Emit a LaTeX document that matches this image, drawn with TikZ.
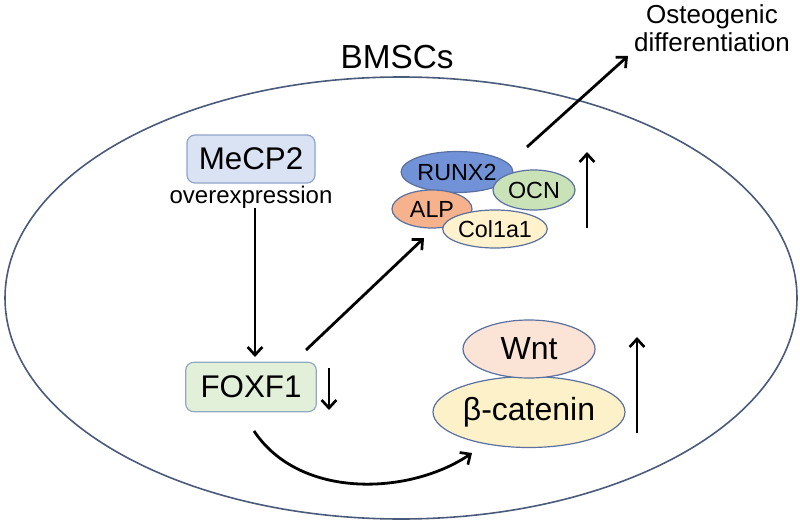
\documentclass[tikz,border=0pt]{standalone}
\usepackage{fontspec}
\setmainfont{Liberation Sans}
\usetikzlibrary{arrows.meta,shapes.geometric}
\definecolor{cellline}{HTML}{4A5A7A}
\definecolor{mecpfill}{HTML}{DAE3F3}
\definecolor{mecpdraw}{HTML}{8FA3C8}
\definecolor{foxfill}{HTML}{E2F0D9}
\definecolor{foxdraw}{HTML}{8FAAC0}
\definecolor{runxfill}{HTML}{7192D6}
\definecolor{ocnfill}{HTML}{C9E2B8}
\definecolor{alpfill}{HTML}{F6B28C}
\definecolor{colfill}{HTML}{FFF2CC}
\definecolor{wntfill}{HTML}{FBE3D6}
\definecolor{catfill}{HTML}{FDF1C9}
\definecolor{elldraw}{HTML}{5A70A0}
\tikzset{
  arr/.style={line width=2.1pt,-{Straight Barb[length=6pt,width=11pt,line width=2pt]}},
  genebox/.style={draw,line width=0.9pt,rounded corners=6pt,inner sep=0pt,font=\fontsize{23.5pt}{26pt}\selectfont},
  prot/.style={ellipse,draw=elldraw,line width=0.9pt,inner sep=0pt},
  small/.style={font=\fontsize{17.5pt}{20pt}\selectfont},
  big/.style={font=\fontsize{24pt}{27pt}\selectfont}
}
\begin{document}
\begin{tikzpicture}[x=0.75pt,y=-0.75pt]
\useasboundingbox (0,0) rectangle (800,521);
% cell
\draw[cellline,line width=1.2pt] (401,298) ellipse [x radius=396, y radius=221];
\node[font=\fontsize{25pt}{28pt}\selectfont] (bmsc) at (397,57) {BMSCs};
\node[font=\fontsize{19.5pt}{21pt}\selectfont,align=center] (osteo) at (712,28) {Osteogenic\\differentiation};
% MeCP2
\node[genebox,draw=mecpdraw,fill=mecpfill,minimum width=96pt,minimum height=36pt] (mecp) at (251,159) {MeCP2};
\node[font=\fontsize{18pt}{20pt}\selectfont] (ov) at (251,197) {overexpression};
% FOXF1
\node[genebox,draw=foxdraw,fill=foxfill,minimum width=98pt,minimum height=37pt] (fox) at (251,387) {FOXF1};
% osteogenic markers
\node[prot,small,fill=runxfill,minimum width=78.75pt,minimum height=30.75pt] (runx) at (457,172) {RUNX2};
\node[prot,small,fill=ocnfill,minimum width=61.5pt,minimum height=30pt] (ocn) at (534,190) {OCN};
\node[prot,small,fill=alpfill,minimum width=60pt,minimum height=28.5pt] (alp) at (432,209) {ALP};
\node[prot,small,fill=colfill,minimum width=72.75pt,minimum height=28.5pt] (col) at (495,229) {Col1a1};
% Wnt / beta-catenin
\node[prot,big,fill=catfill,minimum width=144pt,minimum height=53.25pt] (cat) at (529,412) {β-catenin};
\node[prot,big,fill=wntfill,minimum width=99pt,minimum height=43.5pt] (wnt) at (529,349) {Wnt};
% coordinates for connector ends
\coordinate (mA) at (255,208);
\coordinate (mB) at (255,357);
\coordinate (fA) at (306,350);
\coordinate (fB) at (424,238);
\coordinate (oA) at (527,147);
\coordinate (oB) at (628,56);
\coordinate (cA) at (254,431);
\coordinate (cB) at (472,453);
% connectors
\draw[arr] (mA) -- (mB);
\draw[arr] (fA) -- (fB);
\draw[arr] (oA) -- (oB);
\draw[arr] (cA) .. controls (300,500) and (410,495) .. (cB);
% up/down indicators
\draw[arr] (329,368) -- (329,410);
\draw[arr] (587,228) -- (587,152);
\draw[arr] (637,433) -- (637,337);
\end{tikzpicture}
\end{document}
